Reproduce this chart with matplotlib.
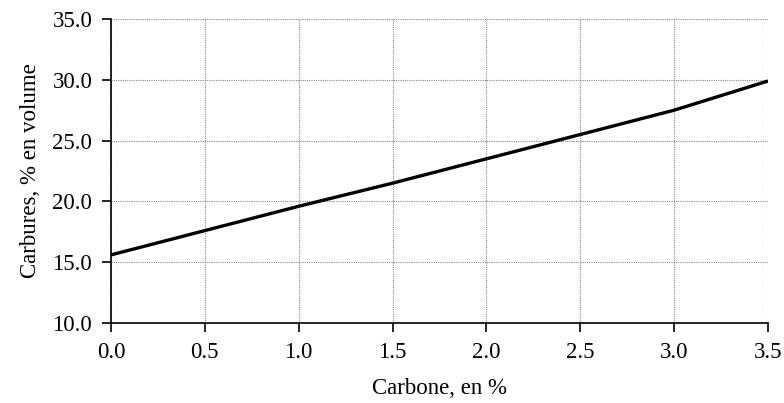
import matplotlib.pyplot as plt

carbone = [0.0, 0.5, 1.0, 1.5, 2.0, 2.5, 3.0, 3.5]
carbures = [15.6, 17.6, 19.6, 21.5, 23.5, 25.5, 27.5, 29.9]

xticks = [0.0, 0.5, 1.0, 1.5, 2.0, 2.5, 3.0, 3.5]
yticks = [10.0, 15.0, 20.0, 25.0, 30.0, 35.0]

plt.rcParams['font.family'] = ['Liberation Serif', 'DejaVu Serif']
fs = 16.5

fig = plt.figure(figsize=(7.84, 4.03), dpi=100)
ax = fig.add_axes([0.1416, 0.1985, 0.8380, 0.7544])

ax.plot(carbone, carbures, color='black', linewidth=2.4, solid_capstyle='butt')

ax.set_xlim(0, 3.5)
ax.set_ylim(10, 35)
ax.set_xticks(xticks)
ax.set_yticks(yticks)
ax.set_xticklabels(['%.1f' % v for v in xticks], fontsize=fs)
ax.set_yticklabels(['%.1f' % v for v in yticks], fontsize=fs)

ax.grid(True, color='#888888', linestyle=(0, (1, 1)), linewidth=0.8)
ax.set_axisbelow(True)
for s in ['top', 'right']:
    ax.spines[s].set_visible(False)
for s in ['left', 'bottom']:
    ax.spines[s].set_linewidth(1.2)
ax.tick_params(direction='out', length=6.5, width=1.2)
ax.tick_params(axis='y', pad=7)
ax.tick_params(axis='x', pad=7)

ax.set_xlabel('Carbone, en %', fontsize=fs, labelpad=11)
ax.set_ylabel('Carbures, % en volume', fontsize=fs, labelpad=8)

fig.savefig('out.png', dpi=100)
